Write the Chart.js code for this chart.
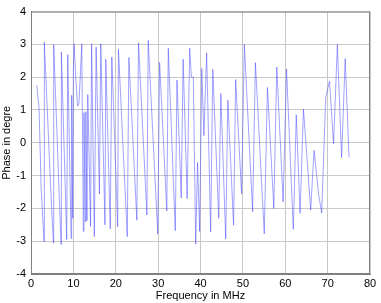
<!DOCTYPE html>
<html>
<head>
<meta charset="utf-8">
<script src="https://cdn.jsdelivr.net/npm/chart.js@4"></script>
<style>
  html, body { margin: 0; padding: 0; background: #fff; }
  #wrap { width: 381px; height: 303px; }
</style>
</head>
<body>
<div id="wrap"><canvas id="phaseChart" width="381" height="303"></canvas></div>
<script>
// frequency (MHz) and phase readings
const freq = [1.35, 1.9, 2.4, 3.07, 3.15, 4.6, 5.28, 5.36, 7.09, 7.17, 8.43, 8.67, 9.46, 9.6, 9.85, 10.0, 10.17,
  10.6, 11.0, 11.3, 11.7, 11.98, 12.35, 12.5, 12.8, 12.95, 13.2, 13.4, 14.05, 14.3, 14.95, 15.37, 16.15, 16.47,
  17.45, 17.65, 18.7, 19.07, 20.45, 20.64, 22.72, 23.1, 24.98, 25.37, 27.35, 27.66, 29.92, 30.35, 32.05, 32.4,
  34.05, 34.45, 35.45, 35.9, 36.85, 37.45, 37.85, 38.3, 38.87, 39.3, 39.8, 40.3, 40.8, 41.45, 42.4, 42.9, 44.3,
  44.8, 45.95, 46.45, 47.8, 48.3, 49.7, 50.35, 52.3, 52.96, 55.05, 55.8, 57.3, 58.0, 59.5, 60.3, 61.9, 62.6,
  63.5, 64.3, 66.0, 66.8, 67.9, 68.6, 69.55, 70.45, 71.4, 72.3, 73.3, 74.15, 75.05];
const phase = [1.76, 1.07, -1.4, -3.02, 3.07, -1.25, -3.05, 2.99, -3.1, 2.77, -2.95, 2.69, -2.92, 1.45, -2.3, 2.28, 3.02,
  1.9, 1.12, 1.2, 2.2, 3.02, -2.7, 0.92, -2.4, 0.95, -2.38, 1.47, -2.55, 3.02, -2.86, 2.92, -1.56, 3.02,
  -2.5, 2.55, -2.62, 2.62, -2.56, 2.85, -2.86, 2.6, -2.36, 3.05, -2.2, 3.12, -2.78, 2.45, -2.08, 2.88,
  -2.68, 1.91, -1.68, 2.55, -1.7, 2.88, 2.0, 2.0, -3.09, -0.6, -2.7, 2.27, 0.22, 2.74, -2.71, 2.24, -2.3,
  1.5, -2.93, 1.3, -2.51, 1.93, -1.55, 3.0, -2.1, 2.44, -2.78, 1.69, -2.0, 2.31, -1.8, 2.25, -2.64, 0.85,
  -2.15, 1.03, -2.05, -0.23, -1.6, -2.14, 1.38, 1.88, -0.03, 3.0, -0.45, 2.57, -0.45];
const xTicks = [0, 10, 20, 30, 40, 50, 60, 70, 80];
const yTicks = [-4, -3, -2, -1, 0, 1, 2, 3, 4];

const points = freq.map((f, i) => ({ x: f, y: phase[i] }));
const font = { family: 'Liberation Sans, Arial, sans-serif', size: 11 };

const ctx = document.getElementById('phaseChart').getContext('2d');
new Chart(ctx, {
  type: 'line',
  data: {
    datasets: [{
      data: points,
      borderColor: 'rgba(70,70,255,0.5)',
      borderWidth: 1,
      pointRadius: 0,
      tension: 0,
      fill: false
    }]
  },
  options: {
    responsive: false,
    animation: false,
    layout: { padding: { top: 10, right: 11, left: 0, bottom: 0 } },
    plugins: { legend: { display: false }, tooltip: { enabled: false } },
    scales: {
      x: {
        type: 'linear',
        min: 0, max: 80,
        afterBuildTicks: s => { s.ticks = xTicks.map(v => ({ value: v })); },
        afterFit: s => { s.height = 29; },
        grid: { color: '#c8c8c8', drawTicks: false },
        border: { color: '#808080' },
        ticks: { color: '#000', font, padding: 3 },
        title: { display: true, text: 'Frequency in MHz', color: '#000', font, padding: 0 }
      },
      y: {
        min: -4, max: 4,
        afterBuildTicks: s => { s.ticks = yTicks.map(v => ({ value: v })); },
        afterFit: s => { s.width = 31; },
        grid: { color: '#c8c8c8', drawTicks: false },
        border: { color: '#808080' },
        ticks: { color: '#000', font, padding: 5 },
        title: { display: true, text: 'Phase in degre', color: '#000', font, padding: 0 }
      }
    }
  },
  plugins: [{
    id: 'box',
    afterDraw(chart) {
      const a = chart.chartArea, c = chart.ctx;
      c.save();
      c.strokeStyle = '#808080';
      c.lineWidth = 1;
      c.strokeRect(a.left + 0.5, a.top + 0.5, a.right - a.left - 1, a.bottom - a.top - 1);
      c.restore();
    }
  }]
});
</script>
</body>
</html>
